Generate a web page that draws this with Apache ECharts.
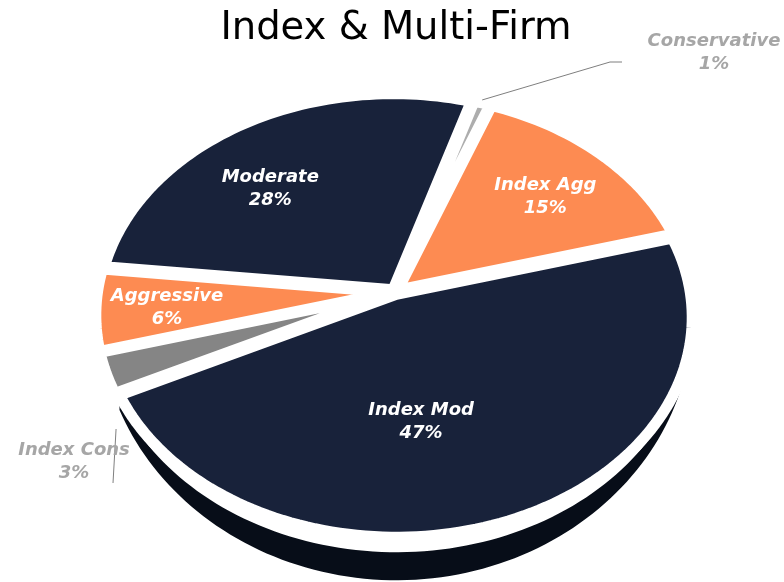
<!DOCTYPE html>
<html>
<head>
<meta charset="utf-8">
<script src="https://cdn.jsdelivr.net/npm/echarts@6/dist/echarts.min.js"></script>
<style>
  html, body { margin: 0; padding: 0; background: #fff; }
  #chart { width: 784px; height: 582px; }
</style>
</head>
<body>
<div id="chart"></div>
<script>
const categories = ["Conservative", "Index Agg", "Index Mod", "Index Cons", "Aggressive", "Moderate"];
const shares = [1, 15, 47, 3, 6, 28];
const sliceColors = ["#adadad", "#fd8b52", "#18223a", "#858585", "#fd8b52", "#18223a"];
const sideColors = [null, null, "#070d18", null, null, null];
const outsideNames = ["Conservative", "Index Cons"];

// tilted pie geometry
const CX = 395, CY = 292, A = 294, B = 217, P = 0.104;
const START_DEG = 17;
const EXPLODE = 0.012;
const D1 = 15, D2 = 43;
const LABEL_R = 0.66;

const total = shares.reduce((s, v) => s + v, 0);
let acc = START_DEG;
const slices = categories.map((name, i) => {
    const a0 = acc;
    const a1 = acc + (shares[i] / total) * 360;
    acc = a1;
    return { name: name, value: shares[i], a0: a0, a1: a1, mid: (a0 + a1) / 2 };
});

function plane(r, deg) {
    const t = (deg * Math.PI) / 180;
    return [r * Math.sin(t), -r * Math.cos(t)];
}
function project(u, w) {
    const s = 1 / (1 - P * w);
    return [CX + A * u * s, CY + B * w * s];
}
// points along the outer rim; depth > 0 pushes the point down, scaled by how far in front it sits
function arcPoints(sl, r, from, to, depth) {
    const off = plane(EXPLODE, sl.mid);
    const n = Math.max(4, Math.ceil(Math.abs(to - from) / 1.5));
    const pts = [];
    for (let k = 0; k <= n; k++) {
        const p = plane(r, from + ((to - from) * k) / n);
        const q = project(p[0] + off[0], p[1] + off[1]);
        const f = depth ? Math.pow(Math.max(0, p[1]), 1.3) : 0;
        pts.push([q[0], q[1] + depth * f]);
    }
    return pts;
}

const labelNudge = {
    "Index Mod": [-49, -16],
    "Moderate": [-22, 12],
    "Index Agg": [11, -1],
    "Aggressive": [-30, 4]
};
const outsideLayout = {
    "Conservative": { from: [0, -3], path: [[610, 62], [622, 62]], text: [714, 53] },
    "Index Cons": { from: [10, 56], path: [[113, 483]], text: [74, 462] }
};

function renderSide(params, api) {
    const i = params.dataIndex;
    const sl = slices[i];
    if (!sideColors[i]) return null;
    const lo = Math.max(sl.a0, 105), hi = Math.min(sl.a1, 265);
    if (lo >= hi) return null;
    const upper = arcPoints(sl, 1, lo, hi, D1);
    const lower = arcPoints(sl, 1, hi, lo, D2);
    return {
        type: "polygon",
        shape: { points: upper.concat(lower) },
        style: { fill: sideColors[i] }
    };
}

const labelFont = { fontSize: 18, fontWeight: "bold", fontStyle: "italic", fontFamily: "DejaVu Sans", lineHeight: 23 };

function renderTop(params, api) {
    const i = params.dataIndex;
    const sl = slices[i];
    const off = plane(EXPLODE, sl.mid);
    const tip = project(off[0], off[1]);
    const pts = [tip].concat(arcPoints(sl, 1, sl.a0, sl.a1, 0));
    const children = [{
        type: "polygon",
        shape: { points: pts },
        style: { fill: sliceColors[i], stroke: "#fff", lineWidth: 11, lineJoin: "round" }
    }];
    const txt = sl.name + "\n" + Math.round((sl.value / total) * 100) + "%";
    if (outsideNames.indexOf(sl.name) >= 0) {
        const lay = outsideLayout[sl.name];
        const o = plane(1.0, sl.mid);
        const start = project(o[0] + off[0], o[1] + off[1]);
        children.push({
            type: "polyline",
            shape: { points: [[start[0] + lay.from[0], start[1] + lay.from[1]]].concat(lay.path) },
            style: { stroke: "#7f7f7f", lineWidth: 1, fill: null }
        });
        children.push({
            type: "text",
            style: Object.assign({
                text: txt, x: lay.text[0], y: lay.text[1],
                align: "center", verticalAlign: "middle", fill: "#a6a6a6"
            }, labelFont),
            z2: 10
        });
    } else {
        const c = plane(LABEL_R, sl.mid);
        const pos = project(c[0] + off[0], c[1] + off[1]);
        const nd = labelNudge[sl.name] || [0, 0];
        children.push({
            type: "text",
            style: Object.assign({
                text: txt, x: pos[0] + nd[0], y: pos[1] + nd[1],
                align: "center", verticalAlign: "middle", fill: "#fff"
            }, labelFont),
            z2: 10
        });
    }
    return { type: "group", children: children };
}

const chart = echarts.init(document.getElementById("chart"));
chart.setOption({
    animation: false,
    backgroundColor: "#fff",
    title: {
        text: "Index & Multi-Firm",
        left: 391,
        textAlign: "center",
        top: 4,
        textStyle: {
            fontFamily: "DejaVu Sans",
            fontWeight: "normal",
            fontSize: 38.5,
            color: "#000"
        }
    },
    series: [
        {
            type: "custom",
            coordinateSystem: "none",
            renderItem: renderSide,
            data: shares,
            z: 1
        },
        {
            type: "custom",
            coordinateSystem: "none",
            renderItem: renderTop,
            data: shares,
            z: 2
        }
    ]
});
</script>
</body>
</html>
